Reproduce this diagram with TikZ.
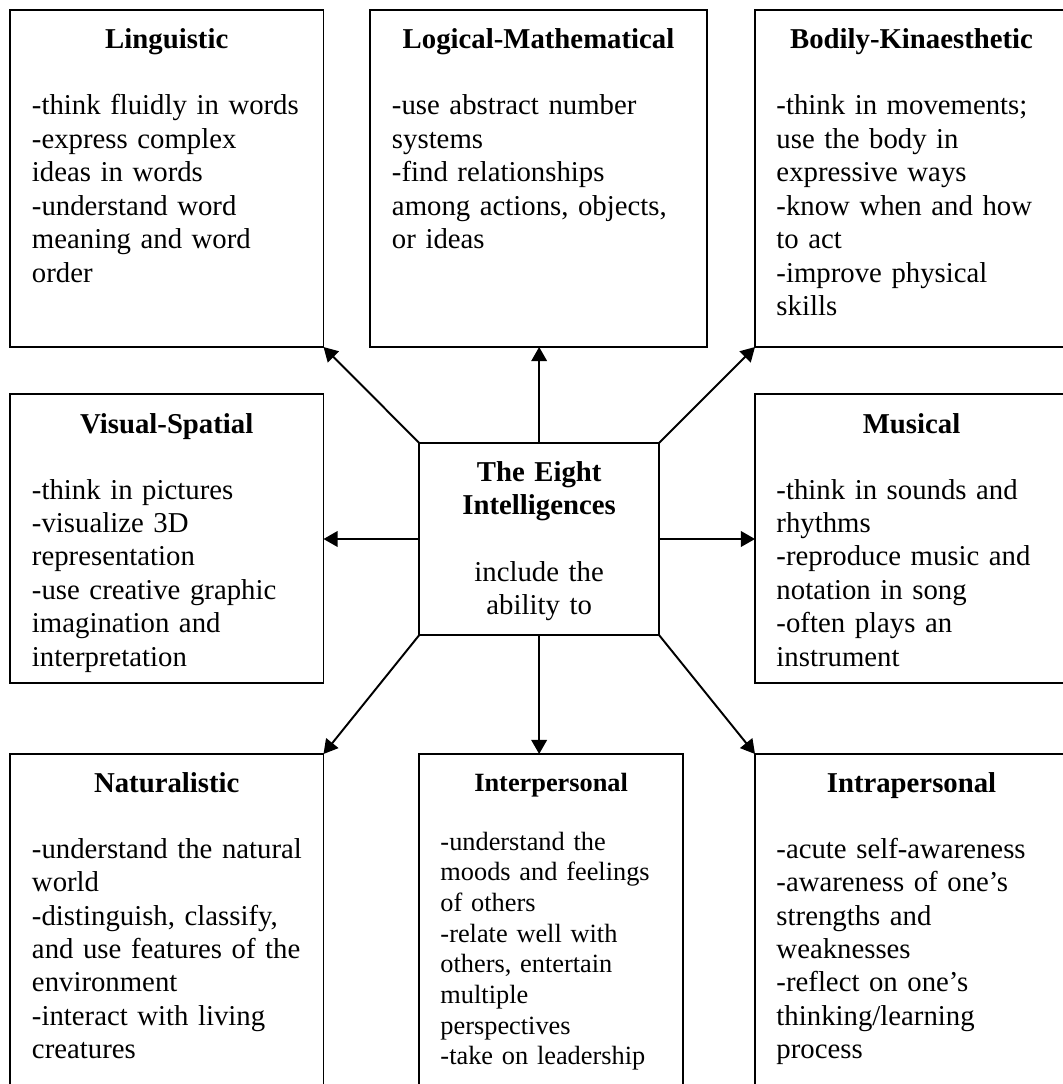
\documentclass[tikz,border=0pt]{standalone}
\usepackage{fontspec}
\setmainfont{Liberation Serif}
\usetikzlibrary{arrows.meta,calc}
\begin{document}
\begin{tikzpicture}[x=0.412pt,y=-0.412pt,
  box/.style={draw, line width=0.8pt, rectangle, inner sep=0pt, outer sep=0pt},
  ttl/.style={font=\fontsize{11.85}{13.8}\selectfont\bfseries, anchor=base, inner sep=0pt, align=center, text width=330*0.412pt},
  txt/.style={font=\fontsize{11.85}{13.8}\selectfont, anchor=base west, inner sep=0pt, align=left, text width=290*0.412pt},
  sttl/.style={font=\fontsize{10.85}{12.65}\selectfont\bfseries, anchor=base, inner sep=0pt, align=center, text width=250*0.412pt},
  stxt/.style={font=\fontsize{10.85}{12.65}\selectfont, anchor=base west, inner sep=0pt, align=left, text width=245*0.412pt},
  ctxt/.style={font=\fontsize{11.85}{13.8}\selectfont, anchor=base, inner sep=0pt, align=center, text width=230*0.412pt},
  arr/.style={line width=0.8pt, -{Triangle[length=5.8pt,width=6.4pt]}}]
\clip (0,0) rectangle (1063,1084);
\fill[white] (0,0) rectangle (1063,1084);
% boxes
\node[box, minimum width=313.5*0.412pt, minimum height=337*0.412pt] (ling) at (166.75,178.5) {};
\node[box, minimum width=337*0.412pt, minimum height=337*0.412pt] (logic) at (538.5,178.5) {};
\node[box, minimum width=313*0.412pt, minimum height=337*0.412pt] (bodk) at (911.5,178.5) {};
\node[box, minimum width=313.5*0.412pt, minimum height=289*0.412pt] (vis) at (166.75,538.5) {};
\node[box, minimum width=239.7*0.412pt, minimum height=192*0.412pt] (cent) at (539.15,539) {};
\node[box, minimum width=313*0.412pt, minimum height=289*0.412pt] (mus) at (911.5,538.5) {};
\node[box, minimum width=313.5*0.412pt, minimum height=366*0.412pt] (nat) at (166.75,937) {};
\node[box, minimum width=263.7*0.412pt, minimum height=366*0.412pt] (inter) at (551.15,937) {};
\node[box, minimum width=313*0.412pt, minimum height=366*0.412pt] (intra) at (911.5,937) {};
% titles
\node[ttl] (ling-t) at ($(ling.north)+(0,39)$) {Linguistic};
\node[ttl] (logic-t) at ($(logic.north)+(0,39)$) {Logical-Mathematical};
\node[ttl] (bodk-t) at ($(bodk.north)+(0,39)$) {Bodily-Kinaesthetic};
\node[ttl] (vis-t) at ($(vis.north)+(0,39)$) {Visual-Spatial};
\node[ttl] (mus-t) at ($(mus.north)+(0,39)$) {Musical};
\node[ttl] (nat-t) at ($(nat.north)+(0,38)$) {Naturalistic};
\node[sttl] (inter-t) at ($(inter.north)+(0,37)$) {Interpersonal};
\node[ttl] (intra-t) at ($(intra.north)+(0,38)$) {Intrapersonal};
\node[ctxt, font=\fontsize{11.85}{13.8}\selectfont\bfseries] (cent-t) at ($(cent.north)+(0,38)$) {The Eight\\Intelligences};
\node[ctxt] (cent-b) at ($(cent.north)+(0,138)$) {include the\\ability to};
% bodies
\node[txt] (ling-b) at ($(ling.north west)+(21.5,105)$) {-think fluidly in words\\-express complex\\ideas in words\\-understand word\\meaning and word\\order};
\node[txt] (logic-b) at ($(logic.north west)+(21.5,105)$) {-use abstract number\\systems\\-find relationships\\among actions, objects,\\or ideas};
\node[txt] (bodk-b) at ($(bodk.north west)+(21,105)$) {-think in movements;\\use the body in\\expressive ways\\-know when and how\\to act\\-improve physical\\skills};
\node[txt] (vis-b) at ($(vis.north west)+(21.5,105)$) {-think in pictures\\-visualize 3D\\representation\\-use creative graphic\\imagination and\\interpretation};
\node[txt] (mus-b) at ($(mus.north west)+(21,105)$) {-think in sounds and\\rhythms\\-reproduce music and\\notation in song\\-often plays an\\instrument};
\node[txt] (nat-b) at ($(nat.north west)+(21.5,104)$) {-understand the natural\\world\\-distinguish, classify,\\and use features of the\\environment\\-interact with living\\creatures};
\node[stxt] (inter-b) at ($(inter.north west)+(20.7,96)$) {-understand the\\moods and feelings\\of others\\-relate well with\\others, entertain\\multiple\\perspectives\\-take on leadership};
\node[txt] (intra-b) at ($(intra.north west)+(21,104)$) {-acute self-awareness\\-awareness of one’s\\strengths and\\weaknesses\\-reflect on one’s\\thinking/learning\\process};
% connectors
\draw[arr] (cent.north west) -- (ling.south east);
\draw[arr] (cent.north) -- (cent.north |- logic.south);
\draw[arr] (cent.north east) -- (bodk.south west);
\draw[arr] (cent.west) -- (cent.west -| vis.east);
\draw[arr] (cent.east) -- (cent.east -| mus.west);
\draw[arr] (cent.south west) -- (nat.north east);
\draw[arr] (cent.south) -- (cent.south |- inter.north);
\draw[arr] (cent.south east) -- (intra.north west);
\end{tikzpicture}
\end{document}
